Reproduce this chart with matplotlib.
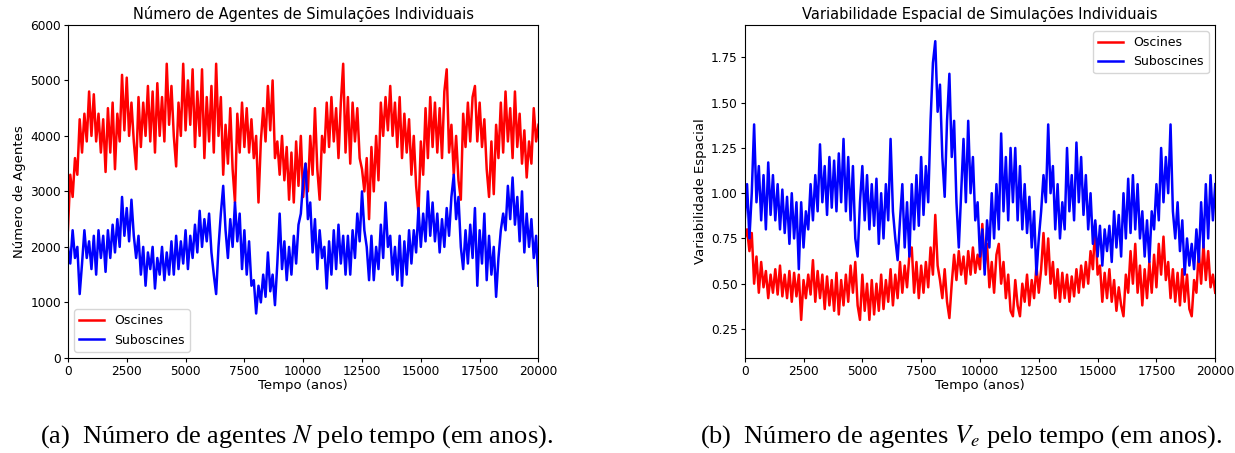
import numpy as np
import matplotlib
matplotlib.use("Agg")
import matplotlib.pyplot as plt

# ---- data (one every 100 years) ----
years = list(range(0, 20001, 100))

oscines_n = [
    2300, 3300, 2900, 3600, 3300, 4300, 3700, 4400, 3900, 4800,
    4000, 4750, 3900, 4400, 3700, 4300, 3350, 4500, 3700, 4600,
    3400, 4400, 3900, 5100, 4100, 5050, 4000, 4600, 3900, 3400,
    4700, 3800, 4600, 4000, 4900, 3900, 4800, 3700, 4950, 4000,
    4700, 3900, 5300, 4200, 4900, 4000, 3450, 4600, 4000, 5300,
    4100, 5000, 4200, 5200, 3800, 4800, 4000, 5200, 3600, 4700,
    3900, 4900, 3700, 5300, 4000, 4700, 3300, 4200, 3500, 4500,
    3400, 2800, 4400, 3700, 4600, 3800, 4500, 3700, 4300, 3600,
    4000, 2800, 3900, 4500, 3900, 4900, 4100, 5000, 3600, 3900,
    3300, 4000, 3200, 3800, 2850, 3700, 2800, 3900, 3100, 4000,
    2900, 3500, 3000, 4000, 3300, 4500, 3400, 2850, 4000, 3700,
    4600, 3800, 4700, 3900, 4500, 3600, 4600, 5300, 3700, 4700,
    3500, 4600, 3900, 4500, 3600, 3400, 3000, 3600, 2500, 3800,
    3000, 4000, 3200, 4600, 4000, 4700, 4100, 4900, 4000, 4600,
    3800, 4700, 3600, 4400, 3700, 4300, 3300, 4000, 3100, 2600,
    3900, 3300, 4500, 3600, 4700, 3800, 4600, 3700, 4500, 3600,
    4800, 5200, 3700, 4200, 3300, 4000, 3200, 2850, 4400, 3800,
    4600, 3900, 4700, 4900, 3900, 4600, 3800, 4300, 3400, 2900,
    3900, 2950, 4200, 3600, 4600, 3700, 4800, 3900, 4500, 3600,
    4800, 3800, 4400, 3500, 4100, 3250, 3900, 3500, 4500, 3900,
    4200,
]

suboscines_n = [
    2000, 1700, 2300, 1800, 2000, 1150, 1700, 2300, 1800, 2100,
    1600, 2200, 1500, 2300, 1800, 2200, 1550, 2300, 1800, 2400,
    1900, 2500, 2000, 2900, 2200, 2700, 2100, 2850, 2200, 1800,
    2200, 1500, 2000, 1300, 1900, 1600, 2000, 1250, 1800, 1500,
    2000, 1400, 1900, 1500, 2100, 1500, 2200, 1600, 2100, 1700,
    2300, 1600, 2200, 1800, 2400, 1900, 2650, 2000, 2500, 2100,
    2600, 1900, 1500, 1150, 2000, 2600, 3100, 2300, 1800, 2500,
    2000, 2800, 2100, 2600, 1600, 2300, 1500, 2100, 1300, 1400,
    800, 1300, 1000, 1500, 1100, 1900, 1200, 1500, 950, 1700,
    2600, 1600, 2100, 1400, 2000, 1500, 2200, 1700, 2400, 2600,
    3200, 3500, 2500, 2800, 1900, 2500, 1600, 2300, 1800, 2000,
    1250, 2100, 1500, 2300, 1600, 2400, 1700, 2200, 1500, 2200,
    1500, 2300, 1800, 2600, 2100, 3000, 2300, 2000, 1400, 2200,
    1400, 2000, 1600, 2400, 1800, 2800, 2000, 2200, 1500, 2000,
    1400, 2200, 1300, 2100, 1500, 2300, 1700, 2300, 1900, 2700,
    2000, 2600, 2100, 3000, 2200, 2800, 2100, 2600, 1900, 2500,
    2000, 2700, 2200, 2900, 3300, 2500, 2900, 2000, 1600, 2300,
    1700, 2400, 1800, 2700, 1300, 2300, 1700, 2600, 1400, 2200,
    1500, 2000, 1100, 1800, 2300, 2600, 2300, 3100, 2500, 3250,
    2400, 2900, 2100, 3000, 1900, 2600, 2000, 2500, 1800, 2200,
    1300,
]

oscines_ve = [
    0.75, 0.80, 0.68, 0.78, 0.50, 0.65, 0.45, 0.62, 0.48, 0.57,
    0.42, 0.55, 0.45, 0.58, 0.44, 0.60, 0.43, 0.55, 0.42, 0.57,
    0.40, 0.56, 0.43, 0.55, 0.30, 0.52, 0.42, 0.55, 0.44, 0.63,
    0.40, 0.57, 0.42, 0.55, 0.36, 0.54, 0.38, 0.52, 0.35, 0.56,
    0.33, 0.52, 0.38, 0.55, 0.40, 0.60, 0.45, 0.62, 0.38, 0.30,
    0.55, 0.35, 0.50, 0.30, 0.52, 0.33, 0.50, 0.35, 0.55, 0.36,
    0.52, 0.40, 0.58, 0.38, 0.55, 0.42, 0.62, 0.45, 0.60, 0.48,
    0.66, 0.70, 0.45, 0.62, 0.42, 0.60, 0.45, 0.62, 0.48, 0.70,
    0.55, 0.88, 0.60, 0.52, 0.42, 0.58, 0.40, 0.31, 0.50, 0.66,
    0.52, 0.68, 0.55, 0.65, 0.50, 0.68, 0.55, 0.70, 0.56, 0.66,
    0.58, 0.83, 0.60, 0.72, 0.48, 0.62, 0.45, 0.66, 0.72, 0.50,
    0.62, 0.42, 0.55, 0.35, 0.32, 0.52, 0.38, 0.32, 0.50, 0.40,
    0.55, 0.38, 0.52, 0.42, 0.60, 0.45, 0.58, 0.78, 0.55, 0.75,
    0.50, 0.62, 0.42, 0.58, 0.40, 0.56, 0.42, 0.55, 0.40, 0.54,
    0.43, 0.58, 0.45, 0.60, 0.48, 0.62, 0.50, 0.68, 0.58, 0.83,
    0.55, 0.60, 0.40, 0.56, 0.42, 0.58, 0.40, 0.52, 0.35, 0.48,
    0.38, 0.32, 0.55, 0.45, 0.68, 0.50, 0.72, 0.45, 0.60, 0.38,
    0.58, 0.42, 0.62, 0.45, 0.66, 0.48, 0.72, 0.55, 0.76, 0.52,
    0.62, 0.42, 0.58, 0.40, 0.56, 0.38, 0.58, 0.40, 0.55, 0.36,
    0.32, 0.52, 0.45, 0.68, 0.50, 0.72, 0.52, 0.68, 0.48, 0.55,
    0.45,
]

suboscines_ve = [
    0.85, 1.05, 0.75, 1.00, 1.38, 0.95, 1.15, 0.85, 1.10, 0.80,
    1.17, 0.88, 1.10, 0.85, 1.05, 0.80, 1.02, 0.78, 0.98, 0.72,
    1.00, 0.75, 0.95, 0.58, 0.95, 0.70, 0.90, 0.80, 1.05, 0.85,
    1.10, 0.90, 1.27, 0.95, 1.15, 0.88, 1.20, 0.92, 1.18, 0.90,
    1.22, 0.95, 1.30, 0.90, 1.20, 0.85, 1.15, 0.75, 0.65, 0.95,
    1.15, 0.85, 1.10, 0.80, 1.05, 0.82, 1.08, 0.72, 1.00, 0.75,
    1.05, 0.85, 1.30, 0.90, 0.75, 0.63, 0.85, 1.05, 0.70, 0.95,
    0.65, 1.05, 0.80, 1.10, 0.82, 1.20, 0.88, 1.15, 0.95, 1.40,
    1.72, 1.84, 1.45, 1.60, 1.20, 0.98, 1.40, 1.66, 1.20, 1.40,
    0.95, 0.70, 1.00, 1.30, 0.95, 1.40, 1.00, 1.20, 0.85, 0.95,
    0.65, 0.80, 0.55, 0.85, 0.70, 1.00, 0.75, 1.05, 0.80, 1.33,
    0.90, 1.20, 0.85, 1.25, 0.95, 1.25, 0.85, 1.15, 0.80, 1.05,
    0.78, 0.98, 0.70, 0.90, 0.55, 0.75, 0.90, 1.10, 0.95, 1.38,
    1.00, 1.15, 0.80, 1.05, 0.75, 0.95, 0.80, 1.25, 0.90, 1.10,
    0.85, 1.28, 0.95, 1.20, 0.88, 1.10, 0.80, 1.00, 0.72, 0.85,
    0.65, 0.82, 0.60, 0.80, 0.68, 0.82, 0.62, 0.90, 0.70, 0.88,
    0.65, 1.00, 0.75, 1.08, 0.78, 1.10, 0.80, 1.05, 0.75, 0.90,
    0.65, 0.85, 0.62, 0.90, 0.80, 1.05, 0.85, 1.25, 0.95, 1.20,
    1.00, 1.38, 0.90, 0.75, 0.95, 0.68, 0.85, 0.55, 0.75, 0.60,
    0.72, 0.58, 0.80, 0.62, 0.95, 0.70, 1.05, 0.75, 1.10, 0.85,
    1.05,
]

series_labels = ["Oscines", "Suboscines"]
series_colors = ["red", "blue"]
x_ticks = [0, 2500, 5000, 7500, 10000, 12500, 15000, 17500, 20000]

# ---- figure ----
plt.rcParams["mathtext.fontset"] = "stix"
fig = plt.figure(figsize=(12.35, 4.53), dpi=100)
ax1 = fig.add_axes([0.055, 0.21, 0.381, 0.735])
ax2 = fig.add_axes([0.603, 0.21, 0.381, 0.735])

fs_tick = 8.7
fs_lab = 9.5
fs_leg = 9
lw = 1.8

for ax, ys, ylabel, title in [
    (ax1, (oscines_n, suboscines_n), "Número de Agentes",
     "Número de Agentes de Simulações Individuais"),
    (ax2, (oscines_ve, suboscines_ve), "Variabilidade Espacial",
     "Variabilidade Espacial de Simulações Individuais"),
]:
    for y, lab, col in zip(ys, series_labels, series_colors):
        ax.plot(years, y, color=col, lw=lw, label=lab)
    ax.set_xlim(0, 20000)
    ax.set_xticks(x_ticks)
    ax.set_title(title, fontsize=10.5, pad=4)
    ax.set_xlabel("Tempo (anos)", fontsize=fs_lab, labelpad=1)
    ax.set_ylabel(ylabel, fontsize=fs_lab, labelpad=3)
    ax.tick_params(labelsize=fs_tick, length=3, pad=2)

ax1.set_ylim(0, 6000)
ax1.legend(loc="lower left", fontsize=fs_leg, handlelength=2.0)
ax2.set_ylim(0.09, 1.93)
ax2.set_yticks([0.25, 0.50, 0.75, 1.00, 1.25, 1.50, 1.75])
ax2.legend(loc="upper right", fontsize=fs_leg, handlelength=2.0)

cap_kw = dict(fontsize=19, family="Liberation Serif", ha="center", va="center")
fig.text(0.240, 1 - 437 / 453, "(a)  Número de agentes $N$ pelo tempo (em anos).", **cap_kw)
fig.text(0.778, 1 - 437 / 453, "(b)  Número de agentes $V_e$ pelo tempo (em anos).", **cap_kw)

fig.savefig("out.png", dpi=100)
